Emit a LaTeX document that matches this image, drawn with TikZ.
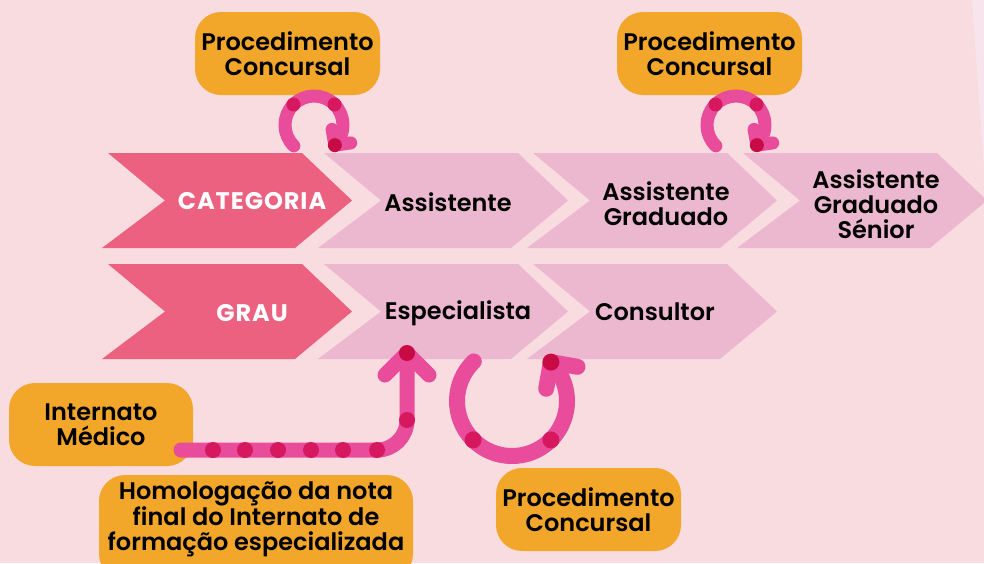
\documentclass[tikz,border=0pt]{standalone}
\usepackage{fontspec}
\setmainfont{Poppins}[BoldFont={Poppins SemiBold}]
\newfontfamily\heavyfont{Poppins Bold}[LetterSpace=4]
\usetikzlibrary{calc}
\definecolor{bg}{HTML}{F8DCE0}
\definecolor{bgl}{HTML}{F8E4EC}
\definecolor{chevd}{HTML}{EC6180}
\definecolor{chevl}{HTML}{ECB8D0}
\definecolor{orng}{HTML}{F2A72B}
\definecolor{apink}{HTML}{E84C9B}
\definecolor{adot}{HTML}{D6185F}
\definecolor{atip}{HTML}{C80A45}
\newcommand{\chev}[3]{\fill[#3] (#1+6,#2) -- (#1+200,#2) -- (#1+250,#2+47.5) -- (#1+193,#2+95) -- (#1,#2+95) -- (#1+63,#2+47.5) -- cycle;}
\begin{document}
\begin{tikzpicture}[x=1pt,y=-1pt,
 txt/.style={font=\fontsize{24}{25}\selectfont\bfseries, align=center, inner sep=0pt},
 wtxt/.style={txt, font=\fontsize{24}{25}\selectfont\heavyfont, text=white},
 obox/.style={fill=orng, rounded corners=26pt, minimum width=185pt, minimum height=83pt, txt},
 aline/.style={draw=apink, line cap=round, line join=round},
 dotst/.style={fill=adot},
 tipst/.style={fill=atip},
]
\useasboundingbox (0,0) rectangle (984,563);
\fill[bg] (0,0) rectangle (984,563);
\fill[bgl] (972,0) -- (984,0) -- (984,168) -- cycle;
% chevrons
\chev{102}{153}{chevd}
\chev{318}{153}{chevl}
\chev{527}{153}{chevl}
\chev{737}{153}{chevl}
\chev{102}{264}{chevd}
\chev{318}{264}{chevl}
\chev{527}{264}{chevl}
% chevron labels
\node[wtxt] (cat) at (252,201) {CATEGORIA};
\node[wtxt] (grau) at (252,313) {GRAU};
\node[txt] (ass) at (448,202) {Assistente};
\node[txt] (assg) at (666,204) {Assistente\\Graduado};
\node[txt] (asss) at (876,204) {Assistente\\Graduado\\Sénior};
\node[txt] (esp) at (458,313) {Especialista};
\node[txt] (cons) at (655,312) {Consultor};
% orange boxes
\node[obox] (pc1) at (287.5,53.5) {Procedimento\\Concursal};
\node[obox] (pc2) at (709.5,53.5) {Procedimento\\Concursal};
\node[obox] (pc3) at (588.5,509.5) {Procedimento\\Concursal};
\node[obox, minimum width=184pt] (im) at (101,424.5) {Internato\\Médico};
\fill[orng, rounded corners=26pt] (99,475) rectangle (413,580);
\node[txt] (hom) at (256,519) {Homologação da nota\\final do Internato de\\formação especializada};
% arrow 1 (top left loop)
\coordinate (c1) at (314,125);
\path (c1) ++(-226:29) coordinate (s1);
\draw[aline, line width=13pt] (s1) arc[start angle=-226, end angle=44, radius=29] coordinate (e1);
\draw[aline, line width=13pt] (e1) -- ++(-100:16);
\draw[aline, line width=13pt] (e1) -- ++(-8:16);
\fill[dotst] (c1) ++(-135:29) circle[radius=7];
\fill[dotst] (c1) ++(-45:29) circle[radius=7];
\fill[tipst] (e1) circle[radius=7];
% arrow 2 (top right loop)
\coordinate (c2) at (736,125);
\path (c2) ++(-226:29) coordinate (s2);
\draw[aline, line width=13pt] (s2) arc[start angle=-226, end angle=44, radius=29] coordinate (e2);
\draw[aline, line width=13pt] (e2) -- ++(-100:16);
\draw[aline, line width=13pt] (e2) -- ++(-8:16);
\fill[dotst] (c2) ++(-135:29) circle[radius=7];
\fill[dotst] (c2) ++(-45:29) circle[radius=7];
\fill[tipst] (e2) circle[radius=7];
% arrow 3 (Internato -> Especialista)
\coordinate (s3) at (181,450);
\coordinate (k3) at (407,450);
\coordinate (e3) at (407,353);
\draw[aline, line width=15pt, rounded corners=30pt] (s3) -- (k3) -- (e3);
\draw[aline, line width=15pt] (e3) -- ++(-22,22);
\draw[aline, line width=15pt] (e3) -- ++(22,22);
\foreach \x in {213,245,278,311,343,377} \fill[dotst] (\x,450) circle[radius=8];
\fill[dotst] (407,420) circle[radius=8];
\fill[tipst] (e3) circle[radius=8];
% arrow 4 (Especialista -> Consultor loop)
\coordinate (c4) at (512,401);
\path (c4) ++(-134:55) coordinate (s4);
\draw[aline, line width=16pt] (s4) arc[start angle=-134, end angle=-405, radius=55] coordinate (e4);
\draw[aline, line width=16pt] (e4) -- ++(100:27);
\draw[aline, line width=16pt] (e4) -- ++(10:27);
\fill[dotst] (c4) ++(-225:55) circle[radius=8.5];
\fill[dotst] (c4) ++(-315:55) circle[radius=8.5];
\fill[tipst] (e4) circle[radius=8.5];
\end{tikzpicture}
\end{document}
